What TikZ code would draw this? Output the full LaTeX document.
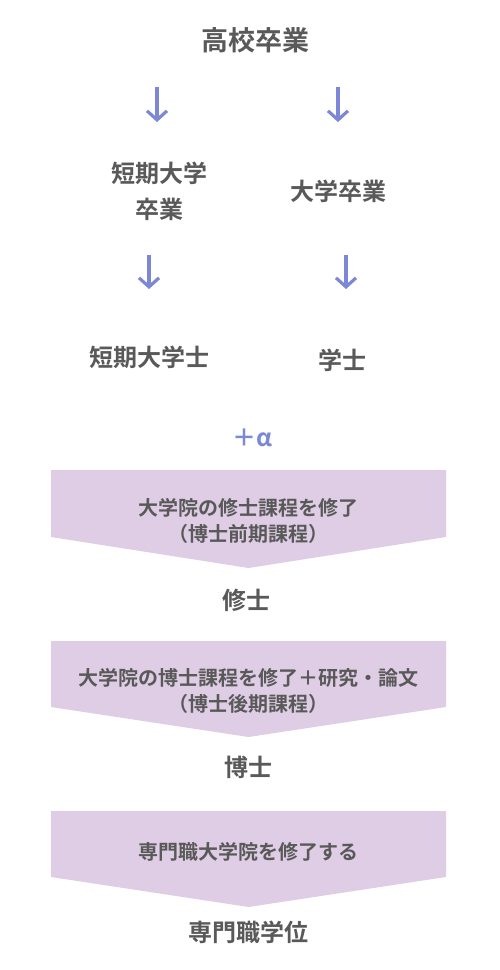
\documentclass[tikz,border=0pt]{standalone}
\usepackage{fontspec}
\setmainfont{Noto Sans CJK JP}[BoldFont={Noto Sans CJK JP Bold}]
\newfontfamily\jpb{Noto Sans CJK JP Bold}
\usetikzlibrary{arrows.meta}
\definecolor{txtgray}{HTML}{595959}
\definecolor{arrblue}{HTML}{7C87D6}
\definecolor{bannerfill}{HTML}{DFCDE5}
\tikzset{
  lbl/.style={text=txtgray, font=\jpb\fontsize{24pt}{30pt}\selectfont, align=center, inner sep=0pt},
  toplbl/.style={lbl, font=\jpb\fontsize{27pt}{32pt}\selectfont},
  bantxt/.style={text=txtgray, font=\jpb\fontsize{20pt}{26pt}\selectfont, align=center, inner sep=0pt},
  darr/.style={draw=arrblue, line width=3.2pt, -{Straight Barb[length=9pt,width=20pt,line width=3.2pt]}},
  banner/.style={fill=bannerfill, draw=none}
}
\begin{document}
\begin{tikzpicture}[x=1pt,y=-1pt]
\useasboundingbox (0,0) rectangle (500,970);
\fill[white] (0,0) rectangle (500,970);
% top
\node[toplbl] (hs) at (255,40) {高校卒業};
% first arrows
\coordinate (a1s) at (157,87); \coordinate (a1e) at (157,122);
\coordinate (a2s) at (338,87); \coordinate (a2e) at (338,122);
\draw[darr] (a1s) -- (a1e);
\draw[darr] (a2s) -- (a2e);
% second row
\node[lbl] (jc) at (159,191) {短期大学\\[6pt]卒業};
\node[lbl] (uc) at (338,191) {大学卒業};
% second arrows
\coordinate (b1s) at (149,255); \coordinate (b1e) at (149,289);
\coordinate (b2s) at (346,255); \coordinate (b2e) at (346,289);
\draw[darr] (b1s) -- (b1e);
\draw[darr] (b2s) -- (b2e);
% degrees
\node[lbl] (ja) at (149,357) {短期大学士};
\node[lbl] (ba) at (342,360) {学士};
\node[text=arrblue, font=\jpb\fontsize{24pt}{30pt}\selectfont, inner sep=0pt] (plus) at (252,438) {＋α};
% banner 1
\path[banner] (51,470) -- (446,470) -- (446,537) -- (248.5,568) -- (51,537) -- cycle;
\node[bantxt] (b1) at (248.5,521) {大学院の修士課程を修了\\（博士前期課程）};
\node[lbl] (ma) at (246,600) {修士};
% banner 2
\path[banner] (51,641) -- (446,641) -- (446,707) -- (248.5,737) -- (51,707) -- cycle;
\node[bantxt] (b2) at (248.5,691) {大学院の博士課程を修了＋研究・論文\\（博士後期課程）};
\node[lbl] (dr) at (248,767) {博士};
% banner 3
\path[banner] (51,811) -- (446,811) -- (446,877) -- (248.5,907) -- (51,877) -- cycle;
\node[bantxt] (b3) at (248.5,852) {専門職大学院を修了する};
\node[lbl] (pd) at (248,932) {専門職学位};
\end{tikzpicture}
\end{document}
